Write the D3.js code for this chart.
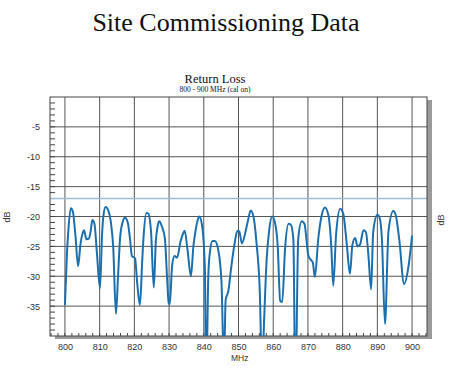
<!DOCTYPE html>
<meta charset="utf-8">
<style>
body { margin: 0; background: #fff; }
.axis text { font-family: "Liberation Sans", Arial, sans-serif; font-size: 9px; fill: #333; }
</style>
<body>
<svg class="chart js-chart"></svg>

<script src="https://d3js.org/d3.v7.min.js"></script>
<script type="text/javascript">
"use strict";

// frequency (MHz) and return loss (dB)
var freqs = [800.0, 800.6, 801.0, 801.7, 802.3, 803.0, 803.8, 804.5, 805.0, 805.5, 806.2, 806.9, 807.4, 807.9, 808.5, 809.2,
  810.1, 810.7, 811.1, 811.7, 812.5, 813.2, 813.9, 814.7, 815.3, 815.9, 816.6, 817.3, 818.1, 818.7, 819.3,
  820.2, 820.8, 821.6, 822.3, 822.7, 823.5, 824.0, 824.8, 825.6, 826.2, 826.6, 827.1, 827.9, 828.8, 829.4, 829.9,
  830.2, 830.9, 831.6, 832.3, 833.3, 834.0, 834.5, 835.3, 836.3, 837.0, 837.6, 838.2, 838.7, 839.5,
  840.3, 840.7, 841.3, 841.8, 842.5, 843.2, 844.2, 845.1, 845.8, 846.3, 847.1, 847.8, 848.8, 849.7,
  850.2, 851.0, 852.0, 852.8, 853.5, 854.3, 855.2, 856.1, 856.8, 857.4, 858.1, 858.8, 859.7,
  860.5, 861.3, 862.0, 862.6, 863.4, 864.4, 865.1, 865.8, 866.4, 867.2, 868.2, 869.0,
  870.1, 870.9, 871.4, 872.0, 873.0, 874.0, 874.9, 875.9, 876.7, 877.3, 878.1, 879.3,
  880.2, 881.2, 882.1, 882.8, 883.6, 884.3, 885.0, 886.0, 886.7, 887.4, 888.2, 888.8,
  890.0, 890.6, 891.3, 892.2, 893.2, 894.6, 895.3, 896.3, 897.7, 898.9, 900.0];

var returnLoss = [-34.8, -26, -22.2, -18.6, -19.2, -23, -28.3, -24.5, -23.0, -22.3, -23.8, -23.7, -22.5, -20.6, -21.2, -26,
  -32, -23, -19.8, -18.4, -19.0, -20.8, -25, -36.3, -30, -23.5, -21, -20.2, -21.0, -23.5, -26.6,
  -27.0, -31, -34.8, -27, -23, -19.4, -19.5, -22.5, -31.9, -24, -22, -20.8, -21.6, -23.7, -30, -34.5,
  -34.7, -28.1, -26.6, -26.9, -24.2, -22.9, -22.4, -25.5, -30.0, -25, -22.5, -20.7, -20.0, -21.5,
  -28.5, -48, -30, -25.8, -24.1, -24.1, -25.7, -31, -45, -34, -32.4, -29, -24.8, -22.4,
  -22.5, -24.5, -22.6, -20.5, -19.0, -20.0, -24.5, -32, -46, -37, -27.3, -22.5, -20.0,
  -21.0, -25.0, -34.1, -34.3, -25.5, -21.2, -21.4, -23.8, -50, -23.8, -20.8, -21.2,
  -26.5, -27.3, -27.7, -30.1, -23.6, -19.7, -18.5, -19.8, -24.7, -31.6, -23.1, -18.7,
  -19.6, -24.7, -29.6, -24.8, -23.6, -25.0, -24.7, -22.3, -22.6, -26.3, -32.2, -22.6,
  -19.7, -20.1, -23.6, -38.0, -22.5, -19.1, -19.8, -23.8, -31.3, -28.6, -23.2];

var limitLine = -17;
var xTicks = [800, 810, 820, 830, 840, 850, 860, 870, 880, 890, 900];
var yTicks = [-5, -10, -15, -20, -25, -30, -35];

var width = 450, height = 372;
var plotLeft = 50, plotRight = 427, plotTop = 97, plotBottom = 336;

var svg = d3.select('.js-chart')
  .attr('width', width)
  .attr('height', height);

var x = d3.scaleLinear().domain([795.7, 904.3]).range([plotLeft, plotRight]);
var y = d3.scaleLinear().domain([-40, 0]).range([plotBottom, plotTop]);

// titles
svg.append('text')
  .attr('x', 226).attr('y', 31)
  .attr('text-anchor', 'middle')
  .style('font-family', '"Liberation Serif", "Times New Roman", serif')
  .style('font-size', '26px')
  .style('fill', '#111')
  .text('Site Commissioning Data');

svg.append('text')
  .attr('x', 215).attr('y', 83)
  .attr('text-anchor', 'middle')
  .style('font-family', '"Liberation Serif", "Times New Roman", serif')
  .style('font-size', '12.5px')
  .style('fill', '#111')
  .text('Return Loss');

svg.append('text')
  .attr('x', 215).attr('y', 92)
  .attr('text-anchor', 'middle')
  .style('font-family', '"Liberation Serif", "Times New Roman", serif')
  .style('font-size', '7.5px')
  .style('fill', '#111')
  .text('800 - 900 MHz (cal on)');

// drop shadow behind the plot
svg.append('rect')
  .attr('x', plotLeft + 5).attr('y', plotTop + 3)
  .attr('width', plotRight - plotLeft).attr('height', plotBottom - plotTop)
  .style('fill', '#9a9a9a');

svg.append('rect')
  .attr('x', plotLeft).attr('y', plotTop)
  .attr('width', plotRight - plotLeft).attr('height', plotBottom - plotTop)
  .style('fill', '#fff');

// grid
svg.append('g').selectAll('line').data(xTicks).enter().append('line')
  .attr('x1', function (d) { return x(d); }).attr('x2', function (d) { return x(d); })
  .attr('y1', plotTop).attr('y2', plotBottom)
  .style('stroke', '#555').style('stroke-width', 1);

svg.append('g').selectAll('line').data(yTicks).enter().append('line')
  .attr('x1', plotLeft).attr('x2', plotRight)
  .attr('y1', function (d) { return y(d); }).attr('y2', function (d) { return y(d); })
  .style('stroke', '#555').style('stroke-width', 1);

// minor ticks
svg.append('g').selectAll('line').data(d3.range(-39, 0, 1)).enter().append('line')
  .attr('x1', plotLeft).attr('x2', plotLeft + 5)
  .attr('y1', function (d) { return y(d); }).attr('y2', function (d) { return y(d); })
  .style('stroke', '#444').style('stroke-width', 1);

svg.append('g').selectAll('line').data(d3.range(796, 905, 2)).enter().append('line')
  .attr('x1', function (d) { return x(d); }).attr('x2', function (d) { return x(d); })
  .attr('y1', plotBottom).attr('y2', plotBottom - 3)
  .style('stroke', '#444').style('stroke-width', 1);

// limit line
svg.append('line')
  .attr('x1', plotLeft).attr('x2', plotRight)
  .attr('y1', y(limitLine)).attr('y2', y(limitLine))
  .style('stroke', '#9bbcda').style('stroke-width', 1.5);

// frame
svg.append('rect')
  .attr('x', plotLeft).attr('y', plotTop)
  .attr('width', plotRight - plotLeft).attr('height', plotBottom - plotTop)
  .style('fill', 'none').style('stroke', '#444').style('stroke-width', 1);

// axes labels
var xAxis = svg.append('g').attr('class', 'axis')
  .attr('transform', 'translate(0,' + plotBottom + ')')
  .call(d3.axisBottom(x).tickValues(xTicks).tickSize(0).tickPadding(8));
xAxis.select('.domain').remove();

var yAxis = svg.append('g').attr('class', 'axis')
  .attr('transform', 'translate(' + plotLeft + ',0)')
  .call(d3.axisLeft(y).tickValues(yTicks).tickSize(0).tickPadding(10)
    .tickFormat(function (d) { return String(d); }));
yAxis.select('.domain').remove();

svg.append('text')
  .attr('transform', 'translate(10,217) rotate(-90)')
  .attr('text-anchor', 'middle')
  .style('font-family', '"Liberation Sans", Arial, sans-serif')
  .style('font-size', '9px').style('fill', '#333')
  .text('dB');

svg.append('text')
  .attr('transform', 'translate(444,220) rotate(-90)')
  .attr('text-anchor', 'middle')
  .style('font-family', '"Liberation Sans", Arial, sans-serif')
  .style('font-size', '9px').style('fill', '#333')
  .text('dB');

svg.append('text')
  .attr('x', 231).attr('y', 361)
  .style('font-family', '"Liberation Sans", Arial, sans-serif')
  .style('font-size', '8.5px').style('fill', '#333')
  .text('MHz');

// trace, clipped to the plot
svg.append('clipPath').attr('id', 'plot-clip')
  .append('rect')
  .attr('x', plotLeft).attr('y', plotTop)
  .attr('width', plotRight - plotLeft).attr('height', plotBottom - plotTop);

var line = d3.line()
  .x(function (d, i) { return x(freqs[i]); })
  .y(function (d) { return y(d); })
  .curve(d3.curveMonotoneX);

svg.append('path')
  .datum(returnLoss)
  .attr('clip-path', 'url(#plot-clip)')
  .attr('d', line)
  .style('fill', 'none')
  .style('stroke', '#1b6fae')
  .style('stroke-width', 2);
</script>
</body>
